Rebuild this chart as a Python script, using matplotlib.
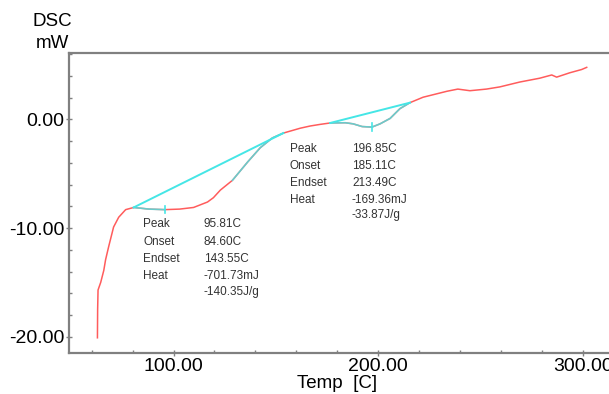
import matplotlib
matplotlib.use("Agg")
import matplotlib.pyplot as plt
import numpy as np

plt.rcParams['font.family'] = ['Liberation Sans', 'DejaVu Sans']

# DSC 曲线
temp = np.array([62.8, 62.9, 63.1, 64.4, 65.9, 66.8, 68.3, 70.7, 73.2, 76.6,
                 80.5, 88.0, 95.8, 103.0, 109.8, 116.6, 119.5, 122.9, 128.8, 136.3,
                 142.4, 148.3, 153.7, 162.0, 166.8, 171.7, 176.6, 184.0, 187.8, 192.2,
                 197.0, 201.0, 205.9, 210.7, 215.6, 222.0, 233.7, 239.0, 244.9, 253.0,
                 259.5, 269.3, 279.0, 284.9, 287.3, 293.7, 299.5, 302.0])
dsc = np.array([-20.1, -17.5, -15.7, -15.0, -13.9, -12.9, -11.7, -9.9, -9.0, -8.3,
                -8.1, -8.25, -8.3, -8.25, -8.1, -7.6, -7.2, -6.5, -5.6, -3.9,
                -2.6, -1.7, -1.25, -0.8, -0.6, -0.45, -0.32, -0.3, -0.4, -0.65,
                -0.7, -0.4, 0.1, 1.0, 1.55, 2.05, 2.6, 2.8, 2.65, 2.8,
                3.0, 3.45, 3.8, 4.1, 3.9, 4.3, 4.6, 4.8])

# 基线端点
base1_t = [80.5, 153.7]
base1_v = [-8.1, -1.25]
base2_t = [176.6, 215.6]
base2_v = [-0.32, 1.55]
peaks = [95.81, 196.85]

# 峰信息
labels = ['Peak', 'Onset', 'Endset', 'Heat', '']
values1 = ['95.81C', '84.60C', '143.55C', '-701.73mJ', '-140.35J/g']
values2 = ['196.85C', '185.11C', '213.49C', '-169.36mJ', '-33.87J/g']

red = '#ff5c5c'
cyan = '#45e6e6'

fig = plt.figure(figsize=(6.09, 3.94), dpi=100)
ax = fig.add_axes([69 / 609, 41 / 394, 1 - 69 / 609, (353 - 52.7) / 394])

ax.plot(temp, dsc, color=red, lw=1.1, zorder=2)

# 基线和峰区覆盖
ax.plot(base1_t, base1_v, color=cyan, lw=1.4, zorder=3)
ax.plot(base2_t, base2_v, color=cyan, lw=1.4, zorder=3)
for lo, hi in [(80.5, 95.8), (128.8, 153.7), (176.6, 215.6)]:
    m = (temp >= lo) & (temp <= hi)
    ax.plot(temp[m], dsc[m], color=cyan, lw=1.2, alpha=0.8, zorder=3)
for p in peaks:
    v = np.interp(p, temp, dsc)
    ax.plot([p, p], [v - 0.35, v + 0.35], color=cyan, lw=1.2, zorder=4)

ax.set_xlim(48.9, 312.9)
ax.set_ylim(-21.5, 6.15)
ax.set_xticks([100, 200, 300])
ax.set_xticklabels(['100.00', '200.00', '300.00'])
ax.set_xticks(np.arange(60, 320, 20), minor=True)
ax.set_yticks([-20, -10, 0])
ax.set_yticklabels(['-20.00', '-10.00', '0.00'])
ax.set_yticks(np.arange(-20, 7, 2), minor=True)

for s in ['left', 'top', 'bottom']:
    ax.spines[s].set_color('#808080')
    ax.spines[s].set_linewidth(1.6)
ax.spines['right'].set_visible(False)
ax.tick_params(which='major', direction='inout', length=5, width=1, color='#808080',
               labelsize=14, pad=1)
ax.tick_params(which='minor', direction='in', length=2.5, width=1, color='#808080')

fig.text(52 / 609, 1 - 22 / 394, 'DSC', ha='center', va='center', fontsize=13.5)
fig.text(52 / 609, 1 - 43 / 394, 'mW', ha='center', va='center', fontsize=13.5)
fig.text(337 / 609, 1 - 384 / 394, 'Temp  [C]', ha='center', va='center', fontsize=13.5)

# 注释文字
rows1 = [224, 242, 259, 276, 292]
rows2 = [149, 166, 183, 200, 215]
for lab, val, y in zip(labels, values1, rows1):
    fig.text(143 / 609, 1 - y / 394, lab, va='center', fontsize=8.5, color='#333333')
    fig.text(204 / 609, 1 - y / 394, val, va='center', fontsize=8.5, color='#333333')
for lab, val, y in zip(labels, values2, rows2):
    fig.text(290 / 609, 1 - y / 394, lab, va='center', fontsize=8.5, color='#333333')
    fig.text(352 / 609, 1 - y / 394, val, va='center', fontsize=8.5, color='#333333')

fig.savefig('out.png', dpi=100)
